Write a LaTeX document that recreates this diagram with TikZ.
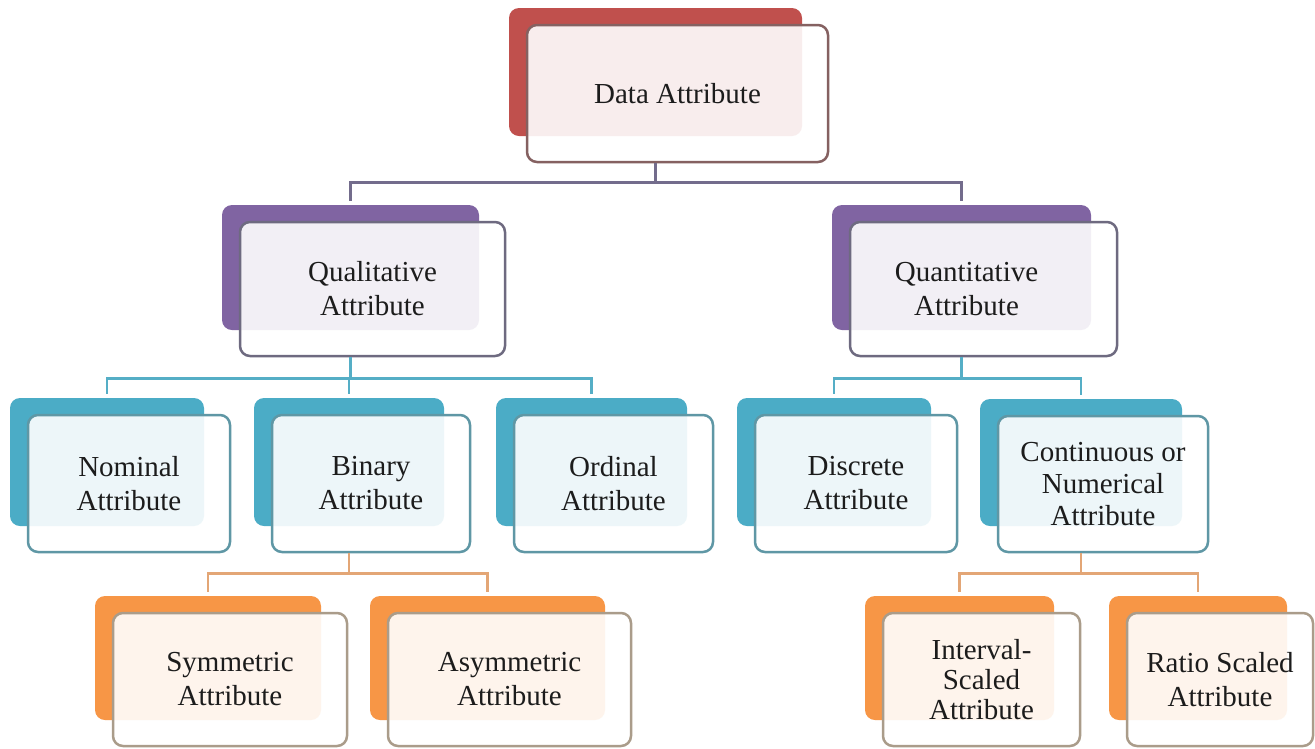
\documentclass[tikz,border=0pt]{standalone}
\usepackage{fontspec}
\setmainfont{Liberation Serif}
\usetikzlibrary{backgrounds,calc}

% palette: back panel colour and front frame colour per level
\definecolor{redback}{HTML}{C0504D}
\definecolor{redline}{HTML}{856161}
\definecolor{purpback}{HTML}{8064A2}
\definecolor{purpline}{HTML}{6E6A80}
\definecolor{tealback}{HTML}{4BACC6}
\definecolor{tealline}{HTML}{5F97A5}
\definecolor{orgback}{HTML}{F79646}
\definecolor{orgline}{HTML}{AA9C8A}
\definecolor{wire1}{HTML}{736C8C}
\definecolor{wire2}{HTML}{55AEC6}
\definecolor{wire3}{HTML}{E3A676}
\definecolor{inkc}{HTML}{1C1C1C}

\tikzset{
  frontbox/.style={draw=#1line, fill=white, fill opacity=0.9, text opacity=1,
    line width=2.5pt, rounded corners=10pt, inner sep=0pt, align=center,
    font=\fontsize{29}{34}\selectfont, text=inkc},
  backbox/.style={fill=#1back, draw=none, rounded corners=10pt, inner sep=0pt},
  wireA/.style={draw=wire1, line width=2.5pt},
  wireB/.style={draw=wire2, line width=2.5pt},
  wireC/.style={draw=wire3, line width=2.5pt},
}

% \attrbox{name}{x1}{y1}{x2}{y2}{palette}{text}: front card with a shifted back panel
\newcommand{\attrbox}[7]{%
  \pgfmathsetmacro\cardcx{(#2+#4)/2}%
  \pgfmathsetmacro\cardcy{(#3+#5)/2}%
  \pgfmathsetmacro\cardw{#4-#2}%
  \pgfmathsetmacro\cardh{#5-#3}%
  \pgfmathsetmacro\panelcx{\cardcx-22}%
  \pgfmathsetmacro\panelcy{\cardcy-21.5}%
  \pgfmathsetmacro\panelw{\cardw-8}%
  \pgfmathsetmacro\panelh{\cardh-9}%
  \begin{scope}[on background layer]
    \node[backbox=#6, minimum width=\panelw pt, minimum height=\panelh pt]
      (#1b) at (\panelcx,\panelcy) {};
  \end{scope}
  \node[frontbox=#6, minimum width=\cardw pt, minimum height=\cardh pt]
    (#1) at (\cardcx,\cardcy) {#7};
}

\begin{document}
\begin{tikzpicture}[x=1pt,y=-1pt]
\useasboundingbox (0,0) rectangle (1315,748);
\begin{scope}[on background layer]
  \fill[white] (0,0) rectangle (1315,748);
\end{scope}

% cards
\attrbox{data}{527}{25}{828}{162}{red}{Data Attribute}
\attrbox{qual}{240}{222}{505}{356}{purp}{Qualitative\\Attribute}
\attrbox{quant}{850}{222}{1117}{356}{purp}{Quantitative\hspace*{34pt}\\Attribute\hspace*{34pt}}
\attrbox{nominal}{28}{415}{230}{552}{teal}{Nominal\\Attribute}
\attrbox{binary}{272}{415}{470}{552}{teal}{Binary\\Attribute}
\attrbox{ordinal}{514}{415}{713}{552}{teal}{Ordinal\\Attribute}
\attrbox{discrete}{755}{415}{957}{552}{teal}{Discrete\\Attribute}
\attrbox{cont}{998}{416}{1208}{552}{teal}{Continuous or\\[-2pt]Numerical\\[-2pt]Attribute}
\attrbox{sym}{113}{613}{347}{746}{org}{Symmetric\\Attribute}
\attrbox{asym}{388}{613}{631}{746}{org}{Asymmetric\\Attribute}
\attrbox{interval}{883}{613}{1080}{746}{org}{Interval-\\[-4pt]Scaled\\[-4pt]Attribute}
\attrbox{ratio}{1127}{613}{1313}{746}{org}{Ratio Scaled\\Attribute}

% connectors
\draw[wireA] (data.south -| datab.north) -- ++(0,19) -| ([yshift=4pt]qualb.north);
\draw[wireA] (data.south -| datab.north) -- ++(0,19) -| ([yshift=4pt]quantb.north);

\draw[wireB] (qual.south -| qualb.north) -- ++(0,21) -| ([yshift=4pt]nominalb.north);
\draw[wireB] (qual.south -| qualb.north) -- ++(0,21) -| ([yshift=4pt]binaryb.north);
\draw[wireB] (qual.south -| qualb.north) -- ++(0,21) -| ([yshift=4pt]ordinalb.north);
\draw[wireB] (quant.south -| quantb.north) -- ++(0,21) -| ([yshift=4pt]discreteb.north);
\draw[wireB] (quant.south -| quantb.north) -- ++(0,21) -| ([yshift=4pt]contb.north);

\draw[wireC] (binary.south -| binaryb.north) -- ++(0,20) -| ([yshift=4pt]symb.north);
\draw[wireC] (binary.south -| binaryb.north) -- ++(0,20) -| ([yshift=4pt]asymb.north);
\draw[wireC] (cont.south -| contb.north) -- ++(0,20) -| ([yshift=4pt]intervalb.north);
\draw[wireC] (cont.south -| contb.north) -- ++(0,20) -| ([yshift=4pt]ratiob.north);
\end{tikzpicture}
\end{document}
